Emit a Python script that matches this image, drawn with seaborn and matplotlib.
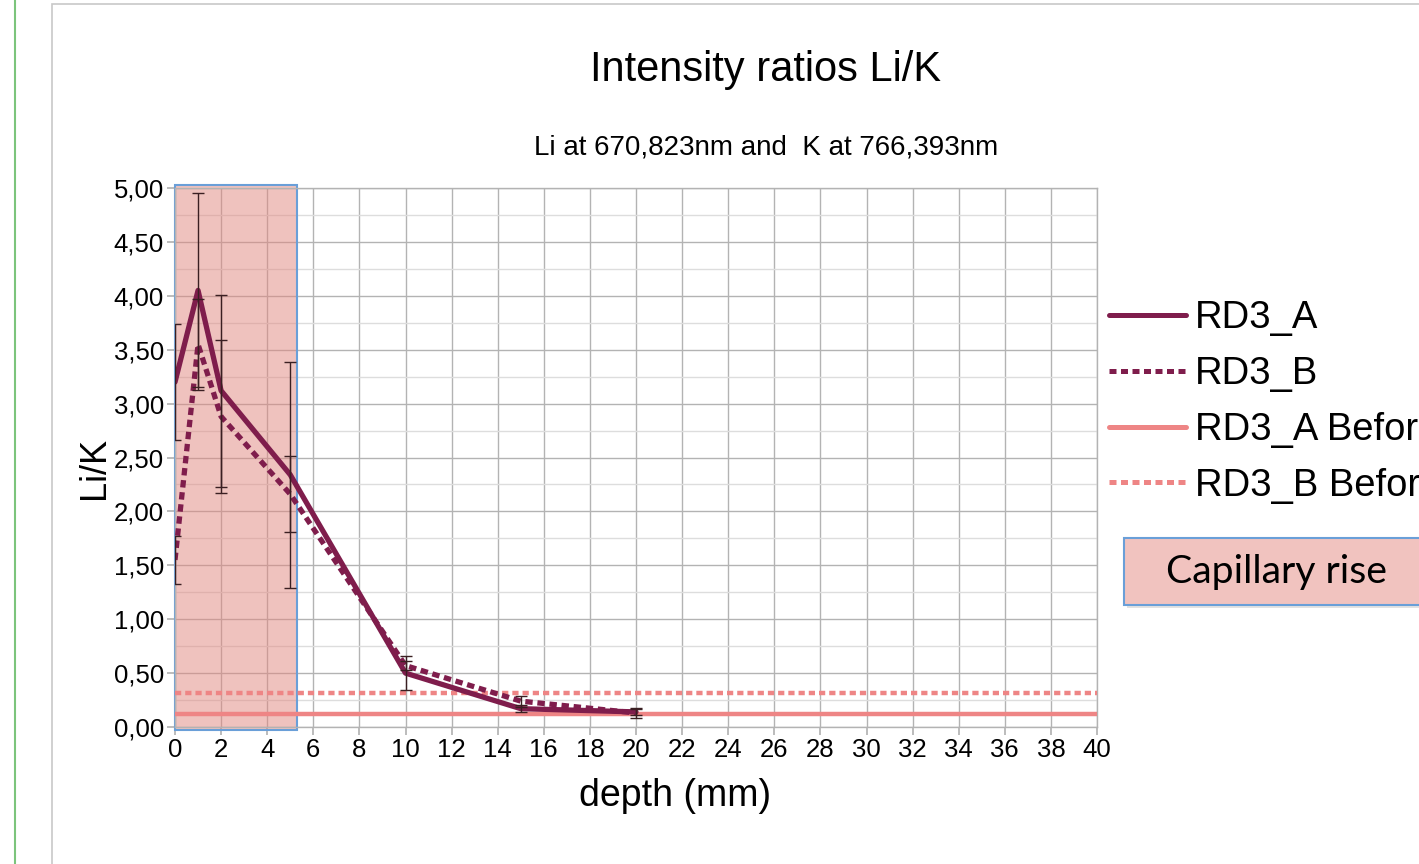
import matplotlib
matplotlib.use("Agg")
import matplotlib.pyplot as plt
from matplotlib.patches import Rectangle
from matplotlib.lines import Line2D
from matplotlib.ticker import MultipleLocator, FuncFormatter
import seaborn as sns
import pandas as pd

# depth in mm and Li/K intensity ratios
depth = [0, 1, 2, 5, 10, 15, 20]
rd3_a = [3.20, 4.05, 3.12, 2.34, 0.50, 0.17, 0.14]
rd3_a_err = [0.54, 0.90, 0.89, 1.05, 0.16, 0.03, 0.03]
rd3_b = [1.55, 3.55, 2.88, 2.16, 0.57, 0.24, 0.13]
rd3_b_err = [0.22, 0.42, 0.71, 0.35, 0.04, 0.05, 0.05]

# reference ratios measured before the capillary experiment
rd3_a_before = 0.125
rd3_b_before = 0.315

# capillary rise zone (mm)
capillary_start = 0
capillary_end = 5.3

dark = "#7f1d4c"
salmon = "#ee8585"

sns.set_theme(style="whitegrid")
plt.rcParams['font.family'] = ['Liberation Sans', 'DejaVu Sans']
plt.rcParams['text.color'] = 'black'
plt.rcParams['axes.labelcolor'] = 'black'
plt.rcParams['xtick.color'] = 'black'
plt.rcParams['ytick.color'] = 'black'

fig = plt.figure(figsize=(14.19, 8.64), dpi=100)
ax = fig.add_axes([175 / 1419, 1 - 727 / 864, 922 / 1419, 539 / 864])
ax.set_facecolor("white")

# capillary rise shading
ax.add_patch(Rectangle((capillary_start, -0.025), capillary_end - capillary_start, 5.05,
                       facecolor="#e1877f", alpha=0.5, edgecolor="none", clip_on=False, zorder=1))
ax.add_patch(Rectangle((capillary_start, -0.025), capillary_end - capillary_start, 5.05,
                       facecolor="none", edgecolor="#6a9fd8", linewidth=1.5, clip_on=False, zorder=1.1))

df = pd.DataFrame({
    "depth": depth * 2,
    "ratio": rd3_a + rd3_b,
    "series": ["RD3_A"] * len(depth) + ["RD3_B"] * len(depth),
})
sns.lineplot(data=df, x="depth", y="ratio", hue="series", style="series",
             palette={"RD3_A": dark, "RD3_B": dark},
             dashes={"RD3_A": "", "RD3_B": (1.4, 0.9)},
             linewidth=3.8, legend=False, ax=ax, zorder=4)

ax.errorbar(depth, rd3_a, yerr=rd3_a_err, fmt="none", ecolor="#3a1f22",
            elinewidth=1, capsize=4.3, capthick=1, zorder=5)
ax.errorbar(depth, rd3_b, yerr=rd3_b_err, fmt="none", ecolor="#3a1f22",
            elinewidth=1, capsize=4.3, capthick=1, zorder=5)

ax.axhline(rd3_a_before, color=salmon, linewidth=3.2, zorder=3)
ax.axhline(rd3_b_before, color=salmon, linewidth=3.2, linestyle=(0, (1.4, 0.9)), zorder=3)

ax.set_xlim(0, 40)
ax.set_ylim(0, 5)
ax.xaxis.set_major_locator(MultipleLocator(2))
ax.yaxis.set_major_locator(MultipleLocator(0.5))
ax.yaxis.set_minor_locator(MultipleLocator(0.25))
ax.yaxis.set_major_formatter(FuncFormatter(lambda v, p: f"{v:.2f}".replace(".", ",")))
ax.grid(True, which="major", color="#b3b3b3", linewidth=1)
ax.grid(True, which="minor", axis="y", color="#dddddd", linewidth=1)
ax.set_axisbelow(True)
for s in ax.spines.values():
    s.set_color("#b3b3b3")
    s.set_linewidth(1)
ax.tick_params(axis="both", which="major", labelsize=18.5, length=6, color="#b3b3b3",
               direction="out", pad=2, labelcolor="black")
ax.tick_params(axis="both", which="minor", length=0)
ax.tick_params(axis="x", bottom=True)
ax.tick_params(axis="y", left=True)

ax.set_xlabel("depth (mm)", fontsize=27)
ax.set_ylabel("Li/K", fontsize=26)
ax.xaxis.set_label_coords((675 - 175) / 922, -0.095)
ax.yaxis.set_label_coords(-0.068, (727 - 468) / 539)

fig.text(766 / 1419, 1 - 70 / 864, "Intensity ratios Li/K", fontsize=30,
         ha="center", va="center")
fig.text(766 / 1419, 1 - 147 / 864, "Li at 670,823nm and  K at 766,393nm", fontsize=20,
         ha="center", va="center")

handles = [
    Line2D([], [], color=dark, linewidth=3.6),
    Line2D([], [], color=dark, linewidth=3.6, linestyle=(0, (1.4, 0.9))),
    Line2D([], [], color=salmon, linewidth=3.6),
    Line2D([], [], color=salmon, linewidth=3.6, linestyle=(0, (1.4, 0.9))),
]
labels = ["RD3_A", "RD3_B", "RD3_A Before", "RD3_B Before"]
fig.legend(handles, labels, loc="upper left", bbox_to_anchor=(1094 / 1419, 1 - 285 / 864),
           frameon=False, fontsize=27.5, handlelength=2.0, handletextpad=0.25,
           labelspacing=0.52, borderaxespad=0)

# capillary rise label box
fig.add_artist(Rectangle((1127 / 1419, 1 - 608 / 864), 400 / 1419, 67 / 864,
                         transform=fig.transFigure, facecolor="#e2e2e2", edgecolor="none", zorder=1))
fig.add_artist(Rectangle((1124 / 1419, 1 - 605 / 864), 400 / 1419, 67 / 864,
                         transform=fig.transFigure, facecolor="#f1c3bf", edgecolor="#6a9fd8",
                         linewidth=1.5, zorder=2))
fig.text(1166 / 1419, 1 - 572 / 864, "Capillary rise", fontsize=28.3, family="Lato",
         ha="left", va="center", zorder=3)

# page frame from the screenshot
fig.add_artist(Rectangle((52 / 1419, -0.1), 1.2, 1 - 4 / 864 + 0.1, transform=fig.transFigure,
                         facecolor="none", edgecolor="#c8c8c8", linewidth=1.2, zorder=0))
fig.add_artist(Line2D([15 / 1419, 15 / 1419], [0, 1], transform=fig.transFigure,
                      color="#7cc47c", linewidth=1.5))

fig.savefig("out.png", dpi=100)
